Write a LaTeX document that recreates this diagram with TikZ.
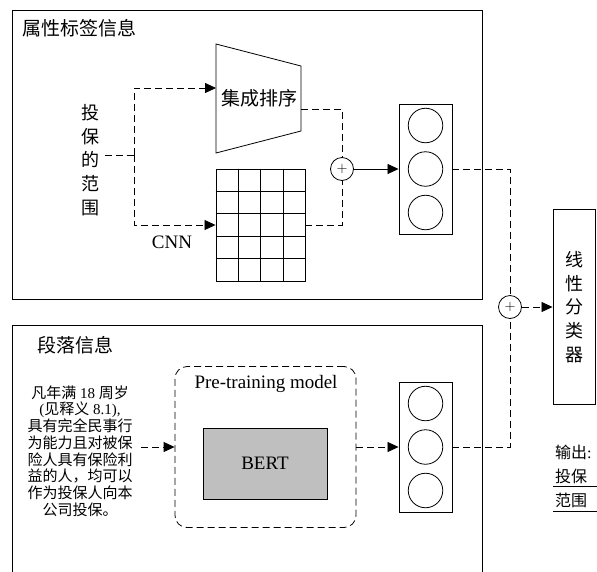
\documentclass[tikz,border=0pt]{standalone}
\usepackage{fontspec}
\setmainfont{Liberation Serif}
\newfontfamily\cjk{Noto Sans CJK SC}
\usetikzlibrary{arrows.meta,positioning,calc}
\definecolor{BertGray}{HTML}{BFBFBF}
\newcommand{\zh}[1]{{\cjk #1}}

\begin{document}
\begin{tikzpicture}[x=1pt,y=-1pt,
  frame/.style={draw, line width=0.9pt},
  vecbox/.style={draw, line width=0.9pt, minimum width=53pt, minimum height=130pt, inner sep=0pt},
  neuron/.style={circle, draw, line width=0.8pt, minimum size=34.5pt, inner sep=0pt},
  plus/.style={circle, draw, line width=0.8pt, minimum size=23pt, inner sep=0pt, font=\fontsize{14}{14}\selectfont},
  dline/.style={dash pattern=on 7pt off 4pt, line width=0.8pt},
  arr/.style={-{Triangle[length=11pt,width=10pt]}},
  title/.style={font=\cjk\fontsize{19}{19}\selectfont, anchor=west, inner sep=0pt},
  big/.style={font=\fontsize{19}{19}\selectfont},
  vtext/.style={font=\cjk\fontsize{18}{23.6}\selectfont, align=center, inner sep=0pt, text width=19pt}
]
\useasboundingbox (0,0) rectangle (597,571);
\clip (0,0) rectangle (597,571);

% panels
\draw[frame] (12,10) rectangle (482,299);
\draw[frame] (12,580) -- (12,325) -- (482,325) -- (482,580);
\node[title] (attrtitle) at (22,28) {属性标签信息};
\node[title] (paratitle) at (37,345) {段落信息};

% attribute branch
\node[vtext] (range) at (90,160) {投\\保\\的\\范\\围};
\coordinate (split) at (134,155);
\draw[line width=0.8pt] (216,44) -- (301,66) -- (301,131) -- (216,153) -- cycle;
\node[font=\cjk\fontsize{19}{19}\selectfont] (rank) at (259,98) {集成排序};
\coordinate (rankin) at (216,88);
\coordinate (rankout) at (301,109);

\node[draw, line width=0.9pt, minimum width=89pt, minimum height=112pt, inner sep=0pt] (cnn) at (260.5,225) {};
\foreach \i in {1,2,3}
  \draw[line width=0.9pt] ($(cnn.north west)!\i/4!(cnn.north east)$) -- ($(cnn.south west)!\i/4!(cnn.south east)$);
\foreach \j in {1,...,4}
  \draw[line width=0.9pt] ($(cnn.north west)!\j/5!(cnn.south west)$) -- ($(cnn.north east)!\j/5!(cnn.south east)$);
\node[big] (cnnlabel) at (172,242) {CNN};

\node[plus] (add1) at (342,169) {$+$};
\node[vecbox] (vec1) at (425.5,169) {};
\foreach \k/\dy in {a/-43.5,b/0,c/43.5}
  \node[neuron] (vec1\k) at ($(vec1)+(0,\dy)$) {};

\draw[dline] ([xshift=5pt]range.east |- split) -- (split);
\draw[dline,arr] (split) |- (rankin);
\draw[dline,arr] (split) |- (cnn.west);
\draw[dline] (rankout) -| (add1.north);
\draw[dline] (cnn.east) -| (add1.south);
\draw[arr, line width=0.8pt] (add1) -- (vec1);

% paragraph branch
\node[font=\fontsize{15}{16.75}\selectfont, align=center] (clause) at (80,451)
  {\zh{凡年满} 18 \zh{周岁}\\(\zh{见释义} 8.1),\\\zh{具有完全民事行}\\\zh{为能力且对被保}\\\zh{险人具有保险利}\\\zh{益的人，均可以}\\\zh{作为投保人向本}\\\zh{公司投保。}};
\node[draw, dline, rounded corners=12pt, minimum width=181pt, minimum height=161pt] (pretrain) at (265.5,447) {};
\node[big] (pretitle) at (266,384) {Pre-training model};
\node[draw, line width=0.9pt, fill=BertGray, minimum width=124pt, minimum height=71pt, big] (bert) at (265,463.5) {BERT};

\node[vecbox] (vec2) at (425.5,447) {};
\foreach \k/\dy in {a/-43.5,b/0,c/43.5}
  \node[neuron] (vec2\k) at ($(vec2)+(0,\dy)$) {};

\draw[dline,arr] ([xshift=5pt]clause.east |- pretrain.west) -- (pretrain.west);
\draw[dline,arr] (pretrain.east) -- (vec2);

% fusion and classifier
\node[plus] (add2) at (510,307) {$+$};
\node[draw, line width=0.9pt, minimum width=42pt, minimum height=195pt, vtext] (cls) at (574,307) {线\\性\\分\\类\\器};
\draw[dline] (vec1.east) -| (add2.north);
\draw[dline] (vec2.east) -| (add2.south);
\draw[dline,arr] (add2) -- (cls);

% output
\node[anchor=west, inner sep=0pt, font=\fontsize{16}{16}\selectfont] (outlabel) at (555,452) {\zh{输出}:};
\node[anchor=west, inner sep=0pt, font=\cjk\fontsize{16}{16}\selectfont] (outa) at (555,476) {投保};
\node[anchor=west, inner sep=0pt, font=\cjk\fontsize{16}{16}\selectfont] (outb) at (555,500) {范围};
\draw[line width=0.8pt] (553,486) -- (600,486);
\draw[line width=0.8pt] (553,511) -- (600,511);
\end{tikzpicture}
\end{document}
